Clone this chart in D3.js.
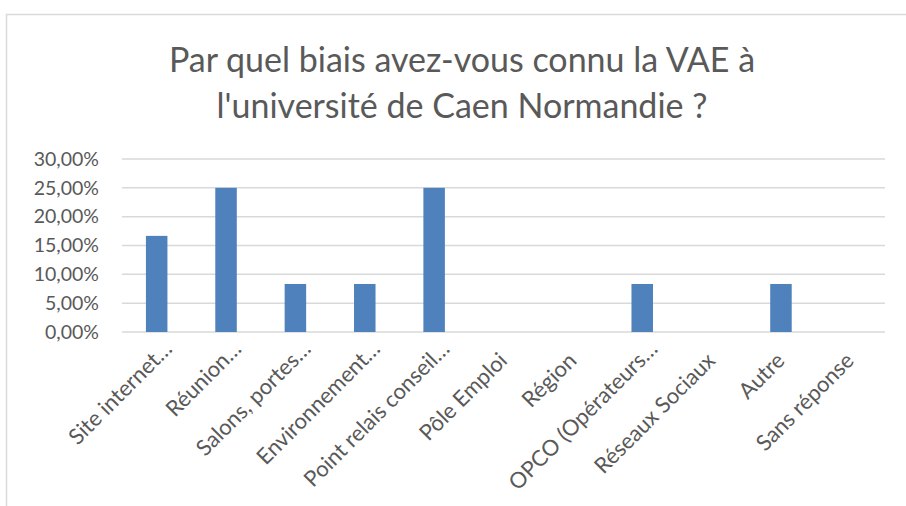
<!DOCTYPE html>
<html>
<head>
<meta charset="utf-8">
<script src="https://cdn.jsdelivr.net/npm/d3@7"></script>
<style>
  body { margin: 0; background: #fff; }
  svg { display: block; font-family: Lato, "Open Sans", sans-serif; }
</style>
</head>
<body>
<div id="chart"></div>
<script>
// Chart data
const categories = [
    "Site internet…", "Réunion…", "Salons, portes…", "Environnement…",
    "Point relais conseil…", "Pôle Emploi", "Région", "OPCO (Opérateurs…",
    "Réseaux Sociaux", "Autre", "Sans réponse"
];
const values = [0.1667, 0.25, 0.0833, 0.0833, 0.25, 0, 0, 0.0833, 0, 0.0833, 0];
const yTicks = [0, 0.05, 0.10, 0.15, 0.20, 0.25, 0.30];
const titleLines = ["Par quel biais avez-vous connu la VAE à", "l'université de Caen Normandie ?"];

const W = 906, H = 506;
const margin = { top: 159, right: 21, bottom: 174, left: 122 };
const width = W - margin.left - margin.right;
const height = H - margin.top - margin.bottom;

const svg = d3.select("#chart")
    .append("svg")
    .attr("width", W)
    .attr("height", H);

// outer chart frame
svg.append("rect")
    .attr("x", 6.5).attr("y", 14.5)
    .attr("width", 940).attr("height", 540)
    .attr("fill", "#fff")
    .attr("stroke", "#d9d9d9")
    .attr("stroke-width", 1.5);

// title
svg.append("text")
    .attr("text-anchor", "middle")
    .attr("fill", "#595959")
    .style("font-size", "34px")
    .selectAll("tspan")
    .data(titleLines)
    .enter()
    .append("tspan")
    .attr("x", 462)
    .attr("y", (d, i) => 72 + i * 46)
    .text(d => d);

const g = svg.append("g")
    .attr("transform", `translate(${margin.left},${margin.top})`);

const xScale = d3.scaleBand()
    .domain(categories)
    .range([0, width])
    .paddingInner(0.69)
    .paddingOuter(0.345);

const yScale = d3.scaleLinear()
    .domain([0, 0.30])
    .range([height, 0]);

// gridlines
g.selectAll(".grid")
    .data(yTicks)
    .enter()
    .append("line")
    .attr("x1", 0)
    .attr("x2", width)
    .attr("y1", d => yScale(d))
    .attr("y2", d => yScale(d))
    .attr("stroke", "#d9d9d9")
    .attr("stroke-width", 1.5);

// y axis labels
const fmt = d => (d * 100).toFixed(2).replace(".", ",") + "%";
const yAxis = d3.axisLeft(yScale)
    .tickValues(yTicks)
    .tickFormat(fmt)
    .tickSize(0)
    .tickPadding(23);
g.append("g")
    .call(yAxis)
    .call(a => a.select(".domain").remove())
    .selectAll("text")
    .attr("fill", "#595959")
    .style("font-family", "Lato, 'Open Sans', sans-serif")
    .style("font-size", "19.5px");

// bars
g.selectAll(".bar")
    .data(values)
    .enter()
    .append("rect")
    .attr("class", "bar")
    .attr("x", (d, i) => xScale(categories[i]))
    .attr("y", d => yScale(d))
    .attr("width", xScale.bandwidth())
    .attr("height", d => height - yScale(d))
    .attr("fill", "#4f81bd");

// x axis labels, rotated
const xAxis = d3.axisBottom(xScale).tickSize(0).tickPadding(0);
const xLabels = g.append("g")
    .attr("transform", `translate(0,${height})`)
    .call(xAxis)
    .call(a => a.select(".domain").remove())
    .selectAll("text")
    .attr("fill", "#595959")
    .style("font-family", "Lato, 'Open Sans', sans-serif")
    .style("font-size", "22px")
    .attr("text-anchor", "end")
    .attr("dy", 0)
    .attr("y", 0)
    .attr("transform", "translate(5,30) rotate(-45)");

// truncated labels: the ellipsis hangs past the tick, like in the original
xLabels.each(function(d) {
    if (!d.endsWith("…")) return;
    const el = d3.select(this);
    const full = this.getComputedTextLength();
    el.text(d.slice(0, -1));
    const shortLen = this.getComputedTextLength();
    el.text(d).attr("x", full - shortLen);
});
</script>
</body>
</html>
